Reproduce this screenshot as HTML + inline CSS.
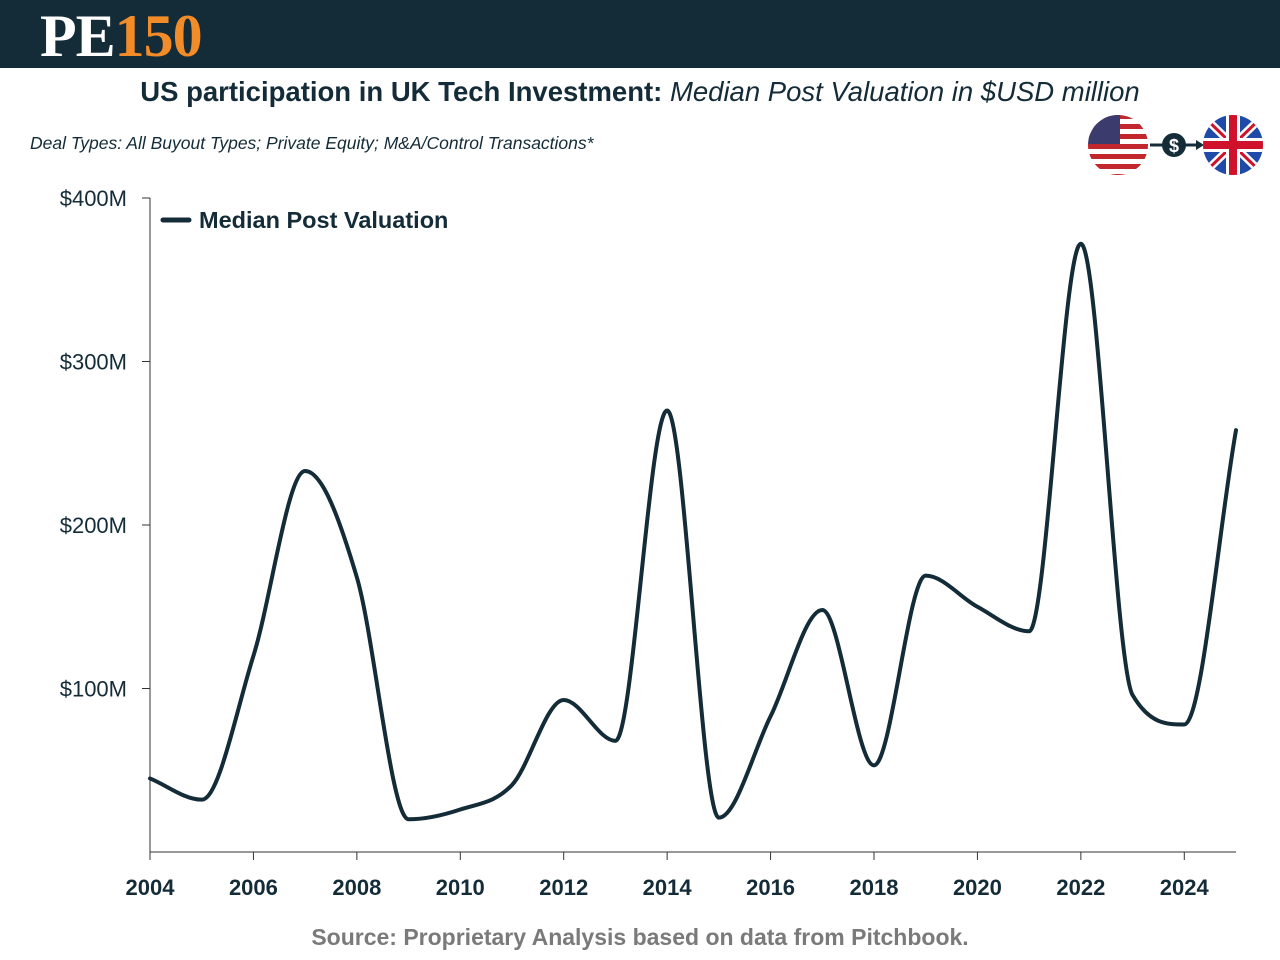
<!DOCTYPE html>
<html><head><meta charset="utf-8"><style>
body{margin:0;width:1280px;height:960px;background:#fff;font-family:"Liberation Sans",sans-serif;overflow:hidden;position:relative}
.hdr{position:absolute;left:0;top:0;width:1280px;height:68px;background:#142b38}
.logo{position:absolute;left:40px;top:2px;font-family:"Liberation Serif",serif;font-weight:bold;font-size:60px;color:#fff;letter-spacing:-1px}
.logo span{color:#f28c28}
.title{position:absolute;top:76px;left:0;width:1280px;text-align:center;font-size:27.5px;color:#142b38}
.sub{position:absolute;top:133px;left:30px;font-size:17.5px;font-style:italic;color:#142b38}
.src{position:absolute;top:924px;left:0;width:1280px;text-align:center;font-size:23px;font-weight:bold;color:#7a7a7a}
</style></head><body>
<div class="hdr"><div class="logo">PE<span>150</span></div></div>
<div class="title"><b>US participation in UK Tech Investment:</b> <i>Median Post Valuation in $USD million</i></div>
<div class="sub">Deal Types: All Buyout Types; Private Equity; M&amp;A/Control Transactions*</div>
<svg style="position:absolute;top:114px;left:1086px" width="180" height="64">
<defs><clipPath id="c1"><circle cx="32" cy="31" r="30"/></clipPath><clipPath id="c2"><circle cx="147" cy="31" r="30"/></clipPath></defs>
<g clip-path="url(#c1)"><rect x="0" y="0" width="64" height="64" fill="#fff"/>
<rect x="0" y="0" width="64" height="5" fill="#c1272d"/><rect x="0" y="10" width="64" height="5" fill="#c1272d"/><rect x="0" y="20" width="64" height="5" fill="#c1272d"/><rect x="0" y="30" width="64" height="5" fill="#c1272d"/><rect x="0" y="40" width="64" height="5" fill="#c1272d"/><rect x="0" y="50" width="64" height="5" fill="#c1272d"/><rect x="0" y="60" width="64" height="5" fill="#c1272d"/>
<rect x="0" y="0" width="34" height="30" fill="#3c3b6e"/></g>
<line x1="64" y1="31" x2="112" y2="31" stroke="#142b38" stroke-width="3"/><polygon points="110,26 118,31 110,36" fill="#142b38"/>
<circle cx="88" cy="31" r="12" fill="#142b38"/><text x="88" y="38" text-anchor="middle" fill="#fff" font-size="18" font-weight="bold">$</text>
<g clip-path="url(#c2)"><rect x="115" y="0" width="64" height="64" fill="#1f4aa8"/>
<line x1="115" y1="0" x2="179" y2="62" stroke="#fff" stroke-width="8"/><line x1="179" y1="0" x2="115" y2="62" stroke="#fff" stroke-width="8"/>
<line x1="115" y1="0" x2="179" y2="62" stroke="#d0112b" stroke-width="3"/><line x1="179" y1="0" x2="115" y2="62" stroke="#d0112b" stroke-width="3"/>
<rect x="115" y="24" width="64" height="14" fill="#fff"/><rect x="140" y="0" width="14" height="64" fill="#fff"/>
<rect x="115" y="27" width="64" height="8" fill="#d0112b"/><rect x="143" y="0" width="8" height="64" fill="#d0112b"/></g>
</svg>
<svg id="ch" width="1280" height="960" style="position:absolute;left:0;top:0"></svg>
<div class="src">Source: Proprietary Analysis based on data from Pitchbook.</div>
<script>
const years=[2004,2005,2006,2007,2008,2009,2010,2011,2012,2013,2014,2015,2016,2017,2018,2019,2020,2021,2022,2023,2024,2025];
const values=[45,32,120,233,168,20,26,41,93,68,270,21,83,148,53,169,150,135,372,96,78,258];
const yTicks=[100,200,300,400];
const yTickLabels=["$100M","$200M","$300M","$400M"];
const xTicks=[2004,2006,2008,2010,2012,2014,2016,2018,2020,2022,2024];
const NS="http://www.w3.org/2000/svg";
const svg=document.getElementById('ch');
const X=v=>150+(v-2004)*(1236-150)/21;
const Y=v=>852-v*(852-198)/400;
function mk(t,a,p){const e=document.createElementNS(NS,t);for(const k in a)e.setAttribute(k,a[k]);(p||svg).appendChild(e);return e;}
let e=mk('line',{x1:150,y1:198,x2:150,y2:852,stroke:'#333','stroke-width':1});


e=mk('line',{x1:150,y1:852,x2:1236,y2:852,stroke:'#333','stroke-width':1});


yTicks.forEach((t,i)=>{
 mk('line',{x1:142,y1:Y(t),x2:150,y2:Y(t),stroke:'#333'});
 e=mk('text',{x:127,y:Y(t)+8,'text-anchor':'end','font-size':22,fill:'#142b38'});e.textContent=yTickLabels[i];
 
 
});
xTicks.forEach(t=>{
 mk('line',{x1:X(t),y1:852,x2:X(t),y2:860,stroke:'#333'});
 e=mk('text',{x:X(t),y:895,'text-anchor':'middle','font-size':22,'font-weight':'bold',fill:'#142b38'});e.textContent=t;
 
 
});
const pts=years.map((y,i)=>[X(y),Y(values[i])]);
// monotone cubic (Fritsch-Carlson)
const n=pts.length,dx=[],sl=[],m=[];
for(let i=0;i<n-1;i++){dx[i]=pts[i+1][0]-pts[i][0];sl[i]=(pts[i+1][1]-pts[i][1])/dx[i];}
m[0]=sl[0];m[n-1]=sl[n-2];
for(let i=1;i<n-1;i++){m[i]=(sl[i-1]*sl[i]<=0)?0:(sl[i-1]+sl[i])/2;}
for(let i=0;i<n-1;i++){if(sl[i]===0){m[i]=m[i+1]=0;continue;}const a=m[i]/sl[i],b=m[i+1]/sl[i],s=a*a+b*b;if(s>9){const t=3/Math.sqrt(s);m[i]=t*a*sl[i];m[i+1]=t*b*sl[i];}}
let d='M'+pts[0][0]+','+pts[0][1];
for(let i=0;i<n-1;i++){const h=dx[i]/3;d+=` C${pts[i][0]+h},${pts[i][1]+m[i]*h} ${pts[i+1][0]-h},${pts[i+1][1]-m[i+1]*h} ${pts[i+1][0]},${pts[i+1][1]}`;}
e=mk('path',{d:d,fill:'none',stroke:'#142b38','stroke-width':4,'stroke-linecap':'round'});


const lg=mk('g',{});


mk('line',{x1:163,y1:220,x2:189,y2:220,stroke:'#142b38','stroke-width':5,'stroke-linecap':'round'},lg);
e=mk('text',{x:199,y:228,'font-size':23.5,'font-weight':'bold',fill:'#142b38'},lg);e.textContent='Median Post Valuation';
</script>
</body></html>
